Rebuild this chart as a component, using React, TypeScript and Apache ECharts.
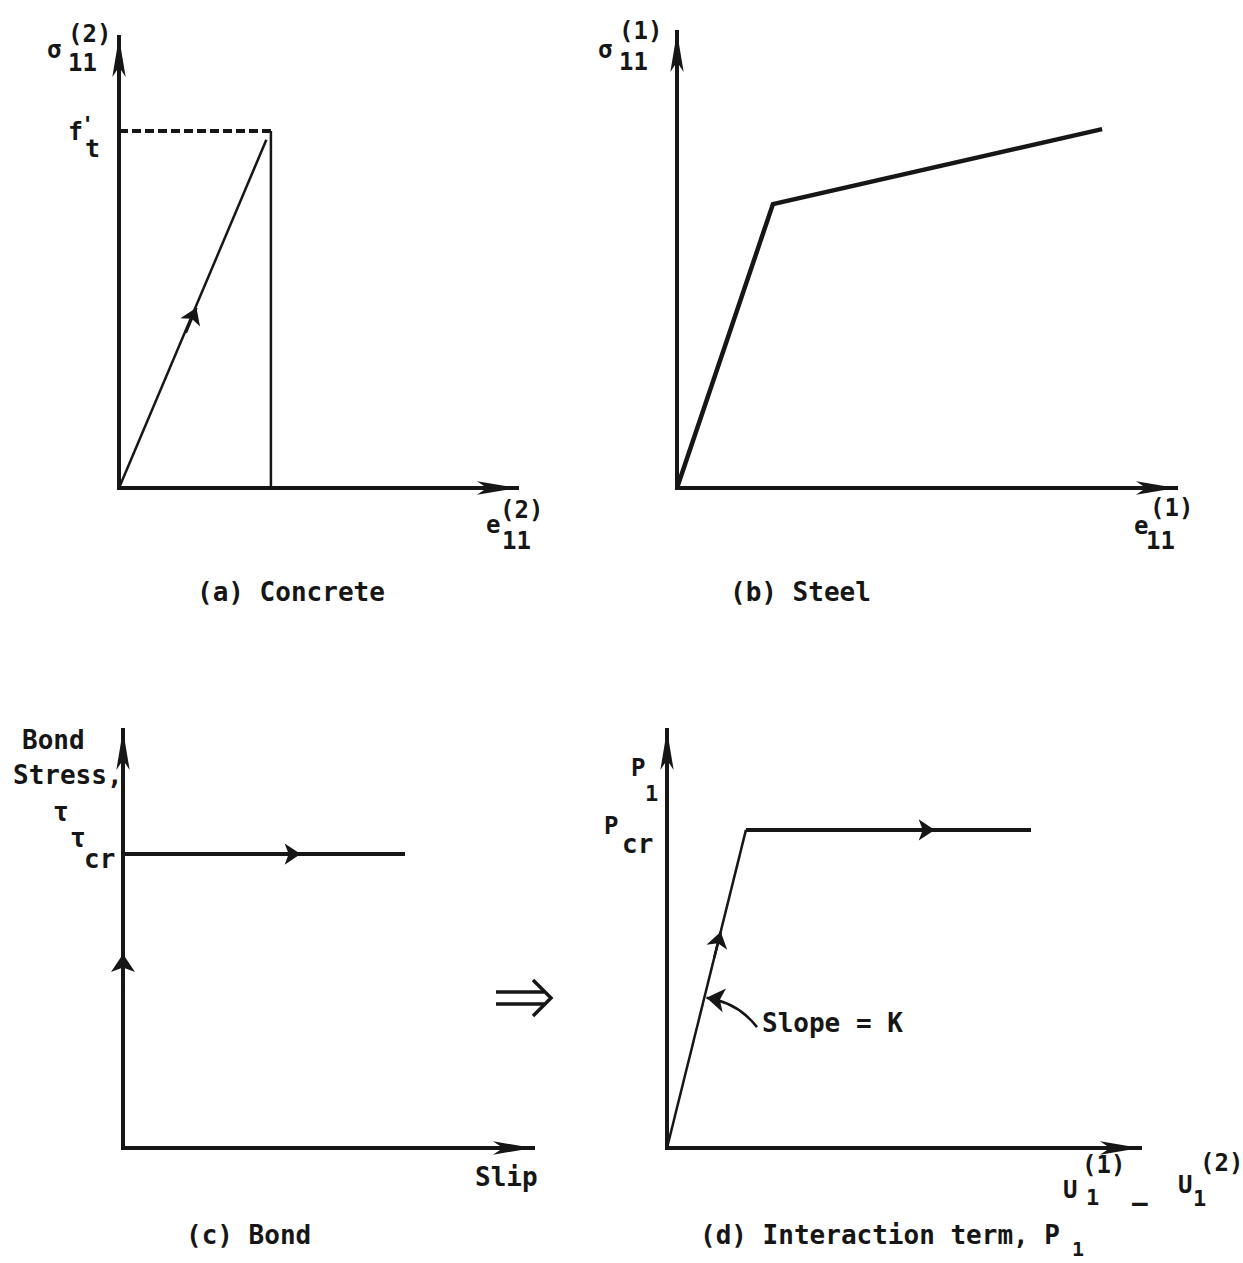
import React, { useEffect, useRef } from "react";
import * as echarts from "echarts";

const W = 1243;
const H = 1263;
const INK = "#161616";
const FONT = "'DejaVu Sans Mono', monospace";

// ---- Panel geometry: origin and arrow tip of each pair of axes (page pixels)
const AX_ARROW_LEN = 40;
const AX_ARROW_W = 10;
const panelOrigin = [
  [119, 488],
  [677, 488],
  [123, 1148],
  [667, 1148],
];
const panelTip = [
  [517, 37],
  [1176, 32],
  [533, 730],
  [1140, 730],
];

// ---- Axis extents in normalised units (1 = cracking / yield / critical value)
const xMax = [2.62, 5.2, 1.454, 5.99];
const yMax = [1.263, 1.606, 1.422, 1.314];

// ---- (a) Concrete: linear to f't, then drops at the cracking strain
const concreteLoading = [[0, 0], [0.97, 0.975]];
const concreteStrengthLine = [[0, 1], [1, 1]];
const concreteCrackDrop = [[1, 0], [1, 1]];
const concreteArrow = [[0.44, 0.435], [0.51, 0.505]];

// ---- (b) Steel: bilinear
const steelCurve = [[0, 0], [1, 1], [4.43, 1.264]];

// ---- (c) Bond: rigid up to tau_cr, then slip at constant stress
const bondRise = [[0, 0.55], [0, 0.66]];
const bondPlateau = [[0, 1], [1, 1]];
const bondArrow = [[0.5, 1], [0.63, 1]];

// ---- (d) Interaction term: slope K up to P_cr, then constant
const interactionSlope = [[0, 0], [1, 1]];
const interactionPlateau = [[1, 1], [4.61, 1]];
const interactionSlopeArrow = [[0.6, 0.6], [0.68, 0.68]];
const interactionPlateauArrow = [[3.0, 1], [3.39, 1]];
const slopeLeader = [[1.14, 0.38], [0.5, 0.472]];

function gridOf(i: number) {
  const [ox, oy] = panelOrigin[i];
  const [tx, ty] = panelTip[i];
  return {
    left: ox,
    top: ty,
    width: tx - ox,
    height: oy - ty,
    containLabel: false,
  };
}

function axisOf(kind: "x" | "y", i: number) {
  return {
    type: "value",
    gridIndex: i,
    min: 0,
    max: kind === "x" ? xMax[i] : yMax[i],
    axisLine: {
      show: true,
      onZero: false,
      symbol: ["none", "arrow"],
      symbolSize: [AX_ARROW_W, AX_ARROW_LEN],
      lineStyle: { color: INK, width: 4, cap: "square" },
    },
    axisTick: { show: false },
    axisLabel: { show: false },
    splitLine: { show: false },
  };
}

function path(i: number, data: number[][], width: number, type: any = "solid") {
  return {
    type: "line",
    xAxisIndex: i,
    yAxisIndex: i,
    data,
    symbol: "none",
    silent: true,
    clip: false,
    lineStyle: { color: INK, width, type, cap: "butt", join: "miter" },
  };
}

function arrows(i: number, segs: number[][][], width: number, size: number[], curveness = 0) {
  return {
    type: "lines",
    coordinateSystem: "cartesian2d",
    xAxisIndex: i,
    yAxisIndex: i,
    silent: true,
    clip: false,
    symbol: ["none", "arrow"],
    symbolSize: size,
    lineStyle: { color: INK, width, opacity: 1, curveness },
    data: segs.map((coords) => ({ coords })),
  };
}

function txt(text: string, x: number, y: number, size = 24, extra: any = {}) {
  return {
    type: "text",
    x,
    y,
    silent: true,
    style: {
      text,
      fill: INK,
      font: `bold ${size}px ${FONT}`,
      textAlign: "left",
      textVerticalAlign: "middle",
      ...extra,
    },
  };
}

export default function App() {
  const ref = useRef<HTMLDivElement>(null);

  useEffect(() => {
    if (!ref.current) return;
    const chart = echarts.init(ref.current, undefined, { renderer: "svg" });

    const graphics: any[] = [
      // (a) labels
      txt("σ", 47, 50, 24),
      txt("11", 68, 63, 24),
      txt("(2)", 68, 34, 24),
      txt("f", 68, 131, 25),
      txt("'", 81, 124, 22),
      txt("t", 85, 148, 25),
      txt("e", 486, 525, 24),
      txt("11", 502, 541, 24),
      txt("(2)", 500, 510, 24),
      txt("(a) Concrete", 197, 592, 26),
      // (b) labels
      txt("σ", 598, 50, 24),
      txt("11", 619, 62, 24),
      txt("(1)", 619, 31, 24),
      txt("e", 1134, 526, 24),
      txt("11", 1146, 541, 24),
      txt("(1)", 1150, 508, 24),
      txt("(b) Steel", 730, 592, 26),
      // (c) labels
      txt("Bond", 22, 740, 26),
      txt("Stress,", 13, 775, 26),
      txt("τ", 53, 812, 26),
      txt("τ", 70, 838, 26),
      txt("cr", 84, 859, 26),
      txt("Slip", 475, 1177, 26),
      txt("(c) Bond", 186, 1235, 26),
      // (d) labels
      txt("P", 631, 768, 24),
      txt("1", 645, 793, 22),
      txt("P", 604, 826, 24),
      txt("cr", 622, 844, 26),
      txt("Slope = K", 762, 1023, 26),
      txt("U", 1063, 1190, 24),
      txt("(1)", 1082, 1165, 24),
      txt("1", 1086, 1197, 22),
      txt("–", 1132, 1203, 26),
      txt("U", 1178, 1185, 24),
      txt("(2)", 1200, 1163, 24),
      txt("1", 1193, 1198, 22),
      txt("(d) Interaction term, P", 700, 1235, 26),
      txt("1", 1072, 1249, 20),
      // implication arrow between (c) and (d)
      {
        type: "polyline",
        silent: true,
        shape: { points: [[496, 992], [544, 992]] },
        style: { stroke: INK, lineWidth: 3.5, fill: "none" },
      },
      {
        type: "polyline",
        silent: true,
        shape: { points: [[496, 1004], [544, 1004]] },
        style: { stroke: INK, lineWidth: 3.5, fill: "none" },
      },
      {
        type: "polyline",
        silent: true,
        shape: { points: [[533, 980], [551, 998], [533, 1016]] },
        style: { stroke: INK, lineWidth: 3.5, fill: "none" },
      },
    ];

    chart.setOption({
      animation: false,
      backgroundColor: "#ffffff",
      grid: [0, 1, 2, 3].map(gridOf),
      xAxis: [0, 1, 2, 3].map((i) => axisOf("x", i)),
      yAxis: [0, 1, 2, 3].map((i) => axisOf("y", i)),
      series: [
        // (a)
        path(0, concreteLoading, 2.5),
        path(0, concreteStrengthLine, 4, [9, 4]),
        path(0, concreteCrackDrop, 2.5),
        arrows(0, [concreteArrow], 2.5, [8, 16]),
        // (b)
        path(1, steelCurve, 4.5),
        // (c)
        path(2, bondPlateau, 4),
        arrows(2, [bondRise], 4, [9, 18]),
        arrows(2, [bondArrow], 4, [8, 16]),
        // (d)
        path(3, interactionSlope, 2.5),
        path(3, interactionPlateau, 4),
        arrows(3, [interactionSlopeArrow], 2.5, [8, 16]),
        arrows(3, [interactionPlateauArrow], 4, [8, 16]),
        arrows(3, [slopeLeader], 2.5, [9, 18], -0.2),
      ],
      graphic: graphics,
    });

    return () => chart.dispose();
  }, []);

  return (
    <div
      ref={ref}
      style={{
        position: "absolute",
        left: 0,
        top: 0,
        width: W,
        height: H,
        background: "#fff",
      }}
    />
  );
}
